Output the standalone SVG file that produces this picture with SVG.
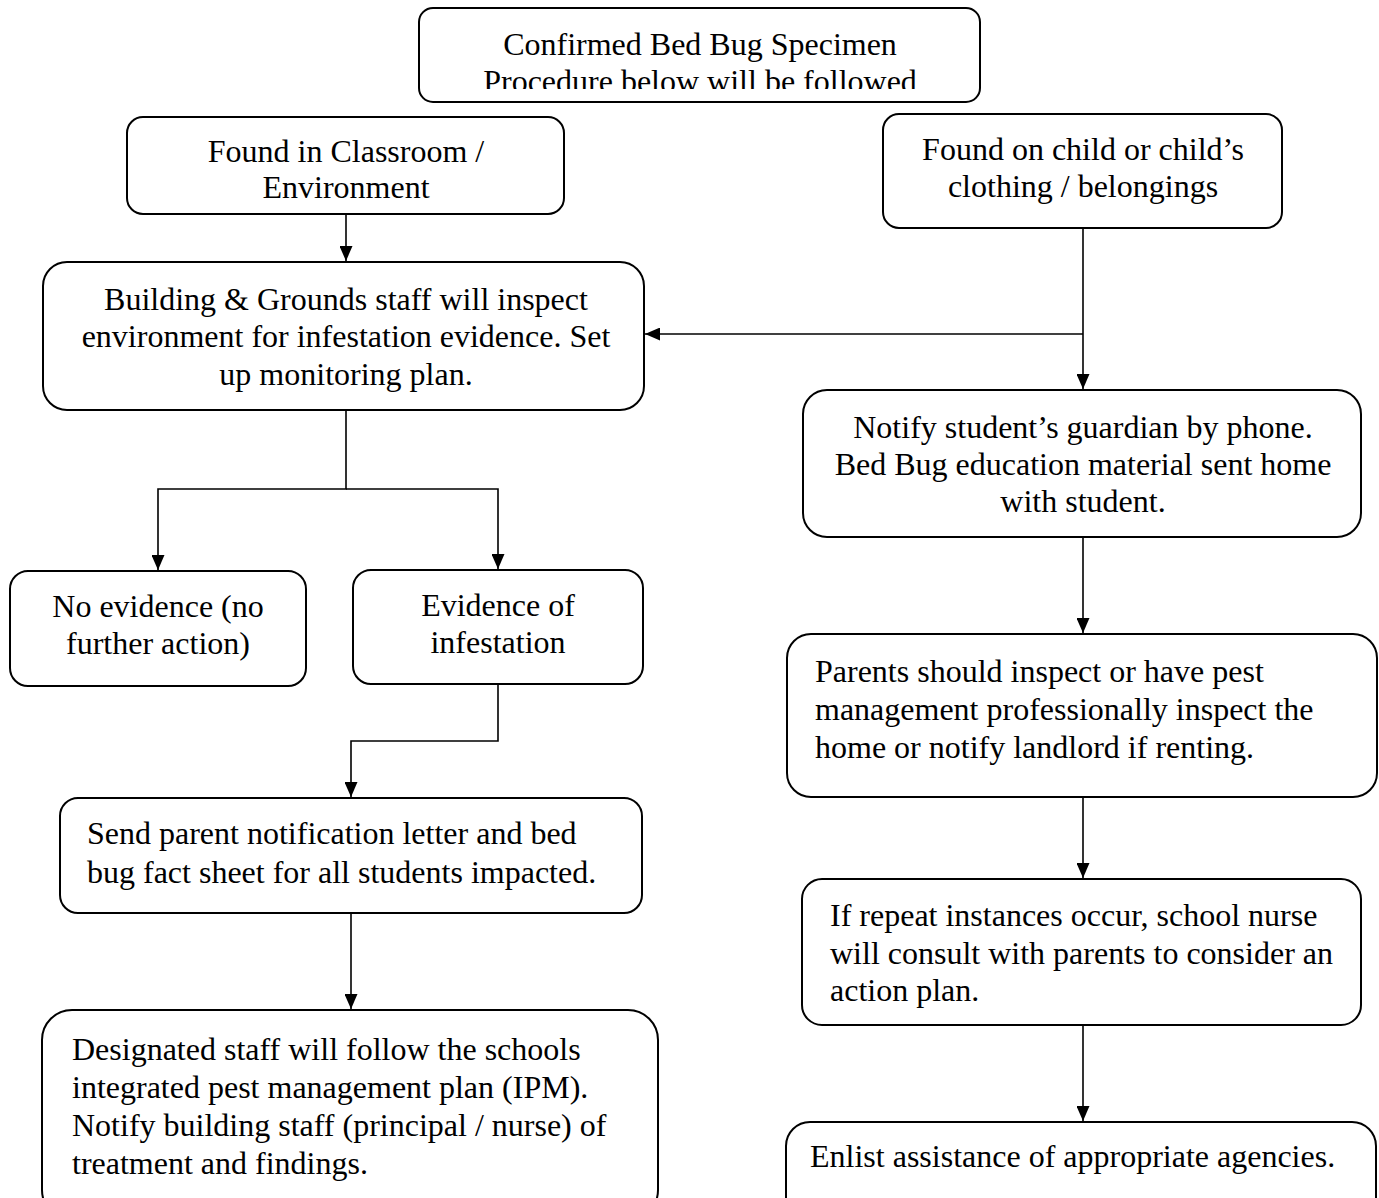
<svg xmlns="http://www.w3.org/2000/svg" width="1379" height="1198" viewBox="0 0 1379 1198">
<style>
.box{fill:#fff;stroke:#000;stroke-width:2}
.t{font-family:"Liberation Serif","Times New Roman",serif;font-size:32px;fill:#000}
.c{text-anchor:middle}
.ln{fill:none;stroke:#000;stroke-width:1.6}
</style>
<defs>
<marker id="ah" markerWidth="15" markerHeight="13" refX="15" refY="6.5" orient="auto" markerUnits="userSpaceOnUse" viewBox="0 0 15 13">
<path d="M0,0 L15,6.5 L0,13 Z" fill="#000"/>
</marker>
<clipPath id="topclip"><rect x="419" y="8" width="561" height="81"/></clipPath>
</defs>
<rect width="1379" height="1198" fill="#fff"/>
<g id="connectors">
<path class="ln" d="M346,214 V261" marker-end="url(#ah)"/>
<path class="ln" d="M1083,228 V389" marker-end="url(#ah)"/>
<path class="ln" d="M1083,334 H645" marker-end="url(#ah)"/>
<path class="ln" d="M346,410 V489 H158 V570" marker-end="url(#ah)"/>
<path class="ln" d="M346,489 H498 V569" marker-end="url(#ah)"/>
<path class="ln" d="M498,684 V741 H351 V797" marker-end="url(#ah)"/>
<path class="ln" d="M351,913 V1009" marker-end="url(#ah)"/>
<path class="ln" d="M1083,537 V633" marker-end="url(#ah)"/>
<path class="ln" d="M1083,797 V878" marker-end="url(#ah)"/>
<path class="ln" d="M1083,1025 V1121" marker-end="url(#ah)"/>
</g>
<g id="n-top">
<rect class="box" x="419" y="8" width="561" height="94" rx="14"/>
<text class="t c" x="700" y="55">Confirmed Bed Bug Specimen</text>
<text class="t c" x="700" y="92" clip-path="url(#topclip)">Procedure below will be followed</text>
</g>
<g id="n-classroom">
<rect class="box" x="127" y="117" width="437" height="97" rx="16"/>
<text class="t c" x="346" y="162">Found in Classroom /</text>
<text class="t c" x="346" y="198">Environment</text>
</g>
<g id="n-child">
<rect class="box" x="883" y="114" width="399" height="114" rx="16"/>
<text class="t c" x="1083" y="160">Found on child or child’s</text>
<text class="t c" x="1083" y="197">clothing / belongings</text>
</g>
<g id="n-building">
<rect class="box" x="43" y="262" width="601" height="148" rx="24"/>
<text class="t c" x="346" y="310">Building &amp; Grounds staff will inspect</text>
<text class="t c" x="346" y="347">environment for infestation evidence. Set</text>
<text class="t c" x="346" y="385">up monitoring plan.</text>
</g>
<g id="n-notify">
<rect class="box" x="803" y="390" width="558" height="147" rx="24"/>
<text class="t c" x="1083" y="438">Notify student’s guardian by phone.</text>
<text class="t c" x="1083" y="475">Bed Bug education material sent home</text>
<text class="t c" x="1083" y="512">with student.</text>
</g>
<g id="n-noevidence">
<rect class="box" x="10" y="571" width="296" height="115" rx="18"/>
<text class="t c" x="158" y="617">No evidence (no</text>
<text class="t c" x="158" y="654">further action)</text>
</g>
<g id="n-evidence">
<rect class="box" x="353" y="570" width="290" height="114" rx="18"/>
<text class="t c" x="498" y="616">Evidence of</text>
<text class="t c" x="498" y="653">infestation</text>
</g>
<g id="n-parents">
<rect class="box" x="787" y="634" width="590" height="163" rx="24"/>
<text class="t" x="815" y="682">Parents should inspect or have pest</text>
<text class="t" x="815" y="720">management professionally inspect the</text>
<text class="t" x="815" y="758">home or notify landlord if renting.</text>
</g>
<g id="n-letter">
<rect class="box" x="60" y="798" width="582" height="115" rx="18"/>
<text class="t" x="87" y="844">Send parent notification letter and bed</text>
<text class="t" x="87" y="883">bug fact sheet for all students impacted.</text>
</g>
<g id="n-repeat">
<rect class="box" x="802" y="879" width="559" height="146" rx="20"/>
<text class="t" x="830" y="926">If repeat instances occur, school nurse</text>
<text class="t" x="830" y="964">will consult with parents to consider an</text>
<text class="t" x="830" y="1001">action plan.</text>
</g>
<g id="n-ipm">
<rect class="box" x="42" y="1010" width="616" height="210" rx="30"/>
<text class="t" x="72" y="1060">Designated staff will follow the schools</text>
<text class="t" x="72" y="1098">integrated pest management plan (IPM).</text>
<text class="t" x="72" y="1136">Notify building staff (principal / nurse) of</text>
<text class="t" x="72" y="1174">treatment and findings.</text>
</g>
<g id="n-enlist">
<rect class="box" x="786" y="1122" width="590" height="100" rx="24"/>
<text class="t" x="810" y="1167">Enlist assistance of appropriate agencies.</text>
</g>
</svg>
